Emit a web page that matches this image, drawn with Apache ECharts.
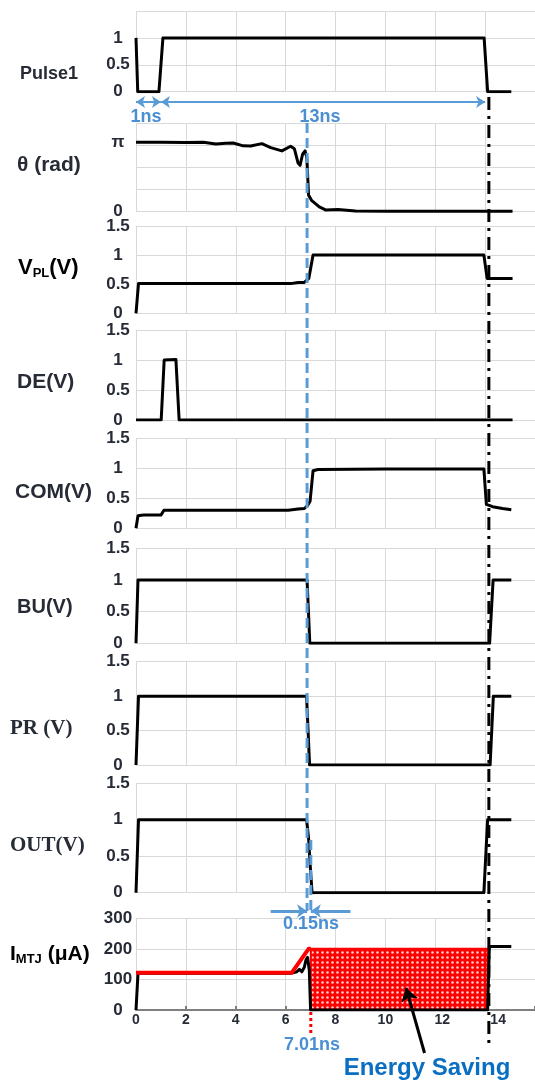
<!DOCTYPE html>
<html>
<head>
<meta charset="utf-8">
<title>Timing waveforms</title>
<script src="https://cdn.jsdelivr.net/npm/echarts@6/dist/echarts.min.js"></script>
<style>
  html, body { margin: 0; padding: 0; background: #ffffff; }
  #chart { width: 535px; height: 1080px; }
</style>
</head>
<body>
<div id="chart"></div>
<script>
// ---- waveform samples: [time (ns), value] ----
const pulse1 = [[0, 1], [0.07, 0], [0.92, 0], [1.08, 1], [13.96, 1], [14.1, 0], [15.05, 0]];
const theta = [[0, 3.14], [1, 3.14], [2, 3.13], [2.7, 3.14], [3.2, 3.06], [3.6, 3.1], [3.9, 3.11],
  [4.3, 2.98], [4.6, 2.97], [5.05, 3.08], [5.4, 2.9], [5.85, 2.75], [6.2, 2.96], [6.35, 2.85],
  [6.5, 2.2], [6.58, 2.1], [6.68, 2.6], [6.78, 2.75], [6.85, 2.45], [6.92, 0.75], [7.05, 0.5],
  [7.35, 0.22], [7.6, 0.08], [8.1, 0.1], [8.8, 0.03], [10, 0.02], [15.1, 0.02]];
const vpl = [[0, 0], [0.1, 0.51], [0.5, 0.51], [6.2, 0.51], [6.5, 0.53], [6.75, 0.53], [6.93, 0.6],
  [7.1, 1.0], [13.95, 1.0], [14.08, 0.6], [15.1, 0.6]];
const de = [[0, 0], [1.01, 0], [1.13, 1], [1.6, 1.01], [1.73, 0], [15.1, 0]];
const com = [[0, 0], [0.08, 0.21], [0.3, 0.22], [1.0, 0.22], [1.12, 0.3], [1.5, 0.3], [6.1, 0.3],
  [6.5, 0.32], [6.75, 0.33], [6.88, 0.38], [6.98, 0.45], [7.1, 0.96], [7.3, 0.98], [10, 0.99],
  [13.95, 0.99], [14.05, 0.4], [14.3, 0.36], [14.7, 0.33], [15.05, 0.31]];
const bu = [[0, 0], [0.08, 1], [6.86, 1], [6.97, 0], [14.18, 0], [14.32, 1], [15.05, 1]];
const pr = [[0, 0], [0.1, 1], [6.84, 1], [6.96, 0], [14.2, 0], [14.33, 1], [15.05, 1]];
const out = [[0, 0], [0.1, 1], [6.84, 1], [6.92, 0.75], [7.0, 0.3], [7.06, 0], [13.95, 0], [14.1, 1], [15.05, 1]];
const imtj = [[0, 0], [0.08, 120], [6.2, 120], [6.45, 125], [6.55, 133], [6.65, 125], [6.75, 140],
  [6.82, 165], [6.88, 172], [6.95, 130], [7.0, 0], [14.1, 0], [14.17, 208], [15.05, 208]];
const imtjEnvelope = [[0, 122], [6.25, 122], [6.92, 200], [7.01, 200]];
const savingRegion = [[7.01, 0], [7.01, 200], [14.1, 200], [14.1, 0]];

// ---- axis ticks ----
const timeTicks = [0, 2, 4, 6, 8, 10, 12, 14];
const pulseTicks = [0, 0.5, 1];
const thetaTicks = [0, Math.PI];
const voltTicks = [0, 0.5, 1, 1.5];
const currentTicks = [0, 100, 200, 300];

// ---- marker times (ns) ----
const pulseRise = 1;
const pulseFall = 14;
const switchStart = 6.86;
const switchEnd = 7.01;
const pulseStop = 14.15;

// ---- panel titles ----
const panelTitles = ['Pulse1', 'θ (rad)', 'V_PL(V)', 'DE(V)', 'COM(V)', 'BU(V)', 'PR (V)', 'OUT(V)', 'I_MTJ (μA)'];

const INK = '#262b36';
const GRID = '#d9d9d9';
const BLUE_LINE = '#5b9bd5';
const BLUE_TEXT = '#4a8fd2';
const SANS = '"Liberation Sans", Arial, sans-serif';
const SERIF = '"Liberation Serif", "Times New Roman", serif';

const X_MAX = 16;
const PLOT_LEFT = 136;
const PLOT_WIDTH = 404.8;

// panel layout: pixel top/bottom of each plotting area and its y scale
const panels = [
  { data: pulse1, top: 11, bottom: 91.7, max: 1.5, interval: 0.5, ticks: pulseTicks },
  { data: theta, top: 123.3, bottom: 211.7, max: 4, interval: 1, ticks: thetaTicks },
  { data: vpl, top: 226, bottom: 313.3, max: 1.5, interval: 0.5, ticks: voltTicks },
  { data: de, top: 330, bottom: 420, max: 1.5, interval: 0.5, ticks: voltTicks },
  { data: com, top: 438.3, bottom: 528.3, max: 1.5, interval: 0.5, ticks: voltTicks },
  { data: bu, top: 548.3, bottom: 643.3, max: 1.5, interval: 0.5, ticks: voltTicks },
  { data: pr, top: 661.7, bottom: 765, max: 1.5, interval: 0.5, ticks: voltTicks },
  { data: out, top: 783.3, bottom: 892.7, max: 1.5, interval: 0.5, ticks: voltTicks },
  { data: imtj, top: 918.3, bottom: 1010, max: 300, interval: 100, ticks: currentTicks }
];

// red fill with a grid of small white dots
function dotPattern() {
  const c = document.createElement('canvas');
  c.width = 5; c.height = 5;
  const g = c.getContext('2d');
  g.fillStyle = '#ff0000';
  g.fillRect(0, 0, 5, 5);
  g.fillStyle = 'rgba(255,255,255,0.8)';
  g.beginPath();
  g.arc(2.5, 2.5, 1.3, 0, Math.PI * 2);
  g.fill();
  return c;
}

// the last two time labels sit a little to the right of their ticks
function timeLabel(v) {
  if (v === 14) return '{far|' + v + '}';
  if (v === 12) return '{near|' + v + '}';
  return String(v);
}

const grids = [], xAxes = [], yAxes = [], series = [];
const last = panels.length - 1;

panels.forEach((p, i) => {
  grids.push({ left: PLOT_LEFT, width: PLOT_WIDTH, top: p.top, height: p.bottom - p.top });
  const isBottom = i === last;
  xAxes.push({
    type: 'value', gridIndex: i, min: 0, max: X_MAX, interval: 2,
    axisLine: isBottom ? { show: true, onZero: false, lineStyle: { color: '#7f7f7f', width: 2 } } : { show: false },
    axisTick: isBottom ? { show: true, inside: true, length: 4, lineStyle: { color: '#7f7f7f', width: 2 } } : { show: false },
    axisLabel: isBottom ? {
      show: true, customValues: timeTicks, margin: 3,
      fontFamily: SANS, fontWeight: 'bold', fontSize: 14, color: INK,
      formatter: timeLabel,
      rich: {
        near: { fontFamily: SANS, fontWeight: 'bold', fontSize: 14, color: INK, padding: [0, 0, 0, 14] },
        far: { fontFamily: SANS, fontWeight: 'bold', fontSize: 14, color: INK, padding: [0, 0, 0, 26] }
      }
    } : { show: false },
    splitLine: { show: true, lineStyle: { color: GRID, width: 1 } }
  });
  yAxes.push({
    type: 'value', gridIndex: i, min: 0, max: p.max, interval: p.interval,
    axisLine: { show: false }, axisTick: { show: false },
    axisLabel: {
      show: true, customValues: p.ticks, align: 'center', margin: 18,
      fontFamily: SANS, fontWeight: 'bold', fontSize: 17, color: INK,
      formatter: v => (Math.abs(v - Math.PI) < 1e-6 ? 'π' : String(v))
    },
    splitLine: { show: true, lineStyle: { color: GRID, width: 1 } }
  });
});

// current panel: patterned region and red envelope under/over the trace
series.push({
  type: 'line', xAxisIndex: last, yAxisIndex: last, data: savingRegion,
  symbol: 'none', silent: true, z: 2,
  lineStyle: { color: '#ff0000', width: 2 },
  areaStyle: { color: { image: dotPattern(), repeat: 'repeat' }, opacity: 1 }
});

panels.forEach((p, i) => {
  series.push({
    type: 'line', xAxisIndex: i, yAxisIndex: i, data: p.data,
    symbol: 'none', silent: true, z: 3,
    lineStyle: { color: '#000000', width: 3, join: 'round' }
  });
});

series.push({
  type: 'line', xAxisIndex: last, yAxisIndex: last, data: imtjEnvelope,
  symbol: 'none', silent: true, z: 4,
  lineStyle: { color: '#ff0000', width: 4, join: 'round' }
});

// overlay grid for annotations spanning all panels (y in page pixels)
const OV = panels.length;
grids.push({ left: PLOT_LEFT, width: PLOT_WIDTH, top: 0, height: 1080 });
xAxes.push({ type: 'value', gridIndex: OV, min: 0, max: X_MAX, show: false });
yAxes.push({ type: 'value', gridIndex: OV, min: 0, max: 1080, inverse: true, show: false });

series.push({
  type: 'line', xAxisIndex: OV, yAxisIndex: OV, silent: true, z: 10,
  data: [[pulseStop, 97], [pulseStop, 1043]], symbol: 'none',
  lineStyle: { color: '#000000', width: 3, type: [13, 6, 3, 6] },
  markLine: {
    silent: true, animation: false, symbol: ['none', 'arrow'], symbolSize: 13,
    label: { show: false },
    lineStyle: { color: '#000000', width: 3, type: 'solid' },
    data: [[{ coord: [11.57, 1053] }, { coord: [10.83, 988] }]]
  }
});
series.push({
  type: 'line', xAxisIndex: OV, yAxisIndex: OV, silent: true, z: 11,
  data: [[switchStart, 123], [switchStart, 911]], symbol: 'none',
  lineStyle: { color: BLUE_LINE, width: 3, type: [10, 5] },
  markLine: {
    silent: true, animation: false, symbol: ['arrow', 'arrow'], symbolSize: 9,
    label: { show: false },
    lineStyle: { color: BLUE_LINE, width: 2, type: 'solid' },
    data: [
      [{ coord: [0, 102] }, { coord: [pulseRise, 102] }],
      [{ coord: [pulseRise, 102] }, { coord: [pulseFall, 102] }]
    ]
  }
});
series.push({
  type: 'line', xAxisIndex: OV, yAxisIndex: OV, silent: true, z: 11,
  data: [[switchEnd, 840], [switchEnd, 911]], symbol: 'none',
  lineStyle: { color: BLUE_LINE, width: 3, type: [10, 5] },
  markLine: {
    silent: true, animation: false, symbol: ['none', 'arrow'], symbolSize: 10,
    label: { show: false },
    lineStyle: { color: BLUE_LINE, width: 3, type: 'solid' },
    data: [
      [{ coord: [5.4, 911] }, { coord: [switchStart, 911] }],
      [{ coord: [8.6, 911] }, { coord: [switchEnd, 911] }]
    ]
  }
});
series.push({
  type: 'line', xAxisIndex: OV, yAxisIndex: OV, silent: true, z: 11,
  data: [[switchEnd, 1012], [switchEnd, 1036]], symbol: 'none',
  lineStyle: { color: '#ff0000', width: 3, type: [3, 3] }
});

// ---- text: panel titles and annotations ----
function title(text, x, y, size, family) {
  return {
    type: 'text', x: x, y: y, silent: true, z: 20,
    style: {
      text: text, fill: INK, align: 'left', verticalAlign: 'middle',
      font: 'bold ' + size + 'px ' + family
    }
  };
}
function richTitle(main, sub, tail, x, y, size) {
  return {
    type: 'text', x: x, y: y, silent: true, z: 20,
    style: {
      text: '{m|' + main + '}{s|' + sub + '}{m|' + tail + '}',
      align: 'left', verticalAlign: 'middle',
      rich: {
        m: { fontFamily: SANS, fontWeight: 'bold', fontSize: size, lineHeight: size + 2, color: INK },
        s: { fontFamily: SANS, fontWeight: 'bold', fontSize: 13, lineHeight: 13, color: INK, verticalAlign: 'bottom' }
      }
    }
  };
}
function note(text, cx, cy, size, color) {
  return {
    type: 'text', x: cx, y: cy, silent: true, z: 20,
    style: {
      text: text, fill: color, align: 'center', verticalAlign: 'middle',
      font: 'bold ' + size + 'px ' + SANS
    }
  };
}

const graphics = [
  title(panelTitles[0], 20, 74, 18, SANS),
  title(panelTitles[1], 17, 165, 21, SANS),
  richTitle('V', 'PL', '(V)', 18, 268, 22),
  title(panelTitles[3], 17, 382, 21, SANS),
  title(panelTitles[4], 15, 492, 21, SANS),
  title(panelTitles[5], 17, 607, 20, SANS),
  title(panelTitles[6], 10, 729, 21, SERIF),
  title(panelTitles[7], 10, 846, 21, SERIF),
  richTitle('I', 'MTJ', ' (μA)', 10, 954, 21),
  note('1ns', 146, 117, 18, BLUE_TEXT),
  note('13ns', 320, 117, 18, BLUE_TEXT),
  note('0.15ns', 311, 924, 18, BLUE_TEXT),
  note('7.01ns', 312, 1045, 18, BLUE_TEXT),
  note('Energy Saving', 427, 1068, 24, '#0a6fc2')
];

const chart = echarts.init(document.getElementById('chart'), null, { renderer: 'canvas', width: 535, height: 1080 });
chart.setOption({
  animation: false,
  backgroundColor: '#ffffff',
  grid: grids,
  xAxis: xAxes,
  yAxis: yAxes,
  series: series,
  graphic: graphics
});
</script>
</body>
</html>
